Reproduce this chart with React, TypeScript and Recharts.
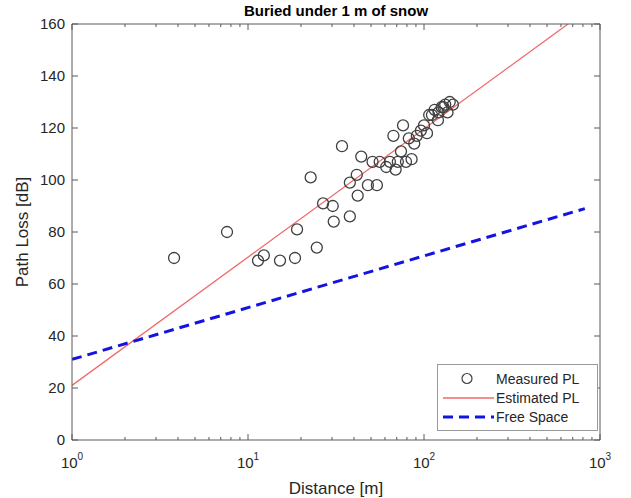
import { ComposedChart, Scatter, Line, XAxis, YAxis, Legend } from 'recharts'

const FONT = '"Liberation Sans", Arial, sans-serif'
const AXIS = '#5a5a5a'
const TEXT = '#262626'
const RED = '#f06a6a'
const BLUE = '#1414e0'

// measured points (distance in m, path loss in dB)
const measuredDistance = [
    3.8, 7.6, 11.4, 12.3, 15.2, 18.5, 19, 22.7, 24.6, 26.7, 30.3, 30.7, 34.2, 37.9, 37.9, 41.5,
    42, 44, 48, 51, 54, 56, 61, 64, 67, 69, 71, 74, 76, 79, 82, 85, 88, 91, 96, 100, 104, 107,
    111, 115, 120, 121, 126, 129, 132, 136, 140, 146,
]
const measuredPL = [
    70, 80, 69, 71, 69, 70, 81, 101, 74, 91, 90, 84, 113, 86, 99, 102, 94, 109, 98, 107, 98, 107,
    105, 107, 117, 104, 107, 111, 121, 107, 116, 108, 114, 117, 119, 121, 118, 125, 125, 127, 123,
    126, 128, 128, 129, 126, 130, 129,
]

// fitted line and free space reference, end points
const estimatedDistance = [1, 658]
const estimatedPL = [21, 160]
const freeSpaceDistance = [1, 820]
const freeSpacePL = [31, 89]

const xTicks = [
    1, 2, 3, 4, 5, 6, 7, 8, 9, 10, 20, 30, 40, 50, 60, 70, 80, 90, 100, 200, 300, 400, 500, 600,
    700, 800, 900, 1000,
]
const decades = [1, 10, 100, 1000]
const yTicks = [0, 20, 40, 60, 80, 100, 120, 140, 160]

const measured = measuredDistance.map((d, i) => ({ d, pl: measuredPL[i] }))
const estimated = estimatedDistance.map((d, i) => ({ d, pl: estimatedPL[i] }))
const freeSpace = freeSpaceDistance.map((d, i) => ({ d, pl: freeSpacePL[i] }))

const BottomTick = ({ x, y, payload }: any) => {
    const major = decades.includes(payload.value)
    return (
        <g>
            <line x1={x} x2={x} y1={y} y2={y - (major ? 6 : 3)} stroke={AXIS} />
            {major && (
                <text x={x} y={y + 28} textAnchor="middle" fontSize={15} fill={TEXT} fontFamily={FONT}>
                    10
                    <tspan dy={-8} fontSize={10}>
                        {Math.round(Math.log10(payload.value))}
                    </tspan>
                </text>
            )}
        </g>
    )
}

const TopTick = ({ x, y, payload }: any) => {
    const major = decades.includes(payload.value)
    return <line x1={x} x2={x} y1={y} y2={y + (major ? 6 : 3)} stroke={AXIS} />
}

const LeftTick = ({ x, y, payload }: any) => (
    <g>
        <line x1={x} x2={x + 6} y1={y} y2={y} stroke={AXIS} />
        <text x={x - 7} y={y} dy="0.35em" textAnchor="end" fontSize={15} fill={TEXT} fontFamily={FONT}>
            {payload.value}
        </text>
    </g>
)

const RightTick = ({ x, y }: any) => <line x1={x} x2={x - 6} y1={y} y2={y} stroke={AXIS} />

const OpenCircle = ({ cx, cy }: any) => (
    <circle cx={cx} cy={cy} r={5.5} fill="none" stroke="#404040" strokeWidth={1.3} />
)

const LegendBox = () => {
    const rows = [
        { label: 'Measured PL', kind: 'circle' },
        { label: 'Estimated PL', kind: 'red' },
        { label: 'Free Space', kind: 'blue' },
    ]
    return (
        <div
            style={{
                border: '1px solid #9a9a9a',
                background: '#fff',
                padding: '4px 0',
                fontFamily: FONT,
                fontSize: 14,
                color: TEXT,
            }}
        >
            {rows.map((r) => (
                <div key={r.label} style={{ display: 'flex', alignItems: 'center', height: 19 }}>
                    <svg width={58} height={19} style={{ flex: 'none' }}>
                        {r.kind === 'circle' && (
                            <circle cx={29} cy={9.5} r={5} fill="none" stroke="#404040" strokeWidth={1.2} />
                        )}
                        {r.kind === 'red' && <line x1={5} x2={56} y1={10} y2={10} stroke={RED} strokeWidth={1.5} />}
                        {r.kind === 'blue' && (
                            <line x1={5} x2={56} y1={10} y2={10} stroke={BLUE} strokeWidth={3} strokeDasharray="10 6" />
                        )}
                    </svg>
                    <span>{r.label}</span>
                </div>
            ))}
        </div>
    )
}

const App = () => {
    return (
        <div style={{ position: 'absolute', left: 0, top: 0, width: 631, height: 498, background: '#fff' }}>
            <div
                style={{
                    position: 'absolute',
                    left: 72,
                    width: 528,
                    top: 2,
                    textAlign: 'center',
                    fontFamily: FONT,
                    fontWeight: 'bold',
                    fontSize: 15,
                    color: '#000',
                }}
            >
                Buried under 1 m of snow
            </div>
            <ComposedChart width={631} height={498} margin={{ top: 23, right: 30, bottom: 0, left: 0 }}>
                <XAxis
                    dataKey="d"
                    type="number"
                    scale="log"
                    domain={[1, 1000]}
                    allowDataOverflow
                    ticks={xTicks}
                    interval={0}
                    tickSize={0}
                    tickMargin={0}
                    tickLine={false}
                    tick={<BottomTick />}
                    stroke={AXIS}
                    height={58}
                    label={{
                        value: 'Distance [m]',
                        position: 'insideBottom',
                        offset: 4,
                        style: { fontSize: 17, fill: TEXT, fontFamily: FONT },
                    }}
                />
                <XAxis
                    xAxisId="top"
                    dataKey="d"
                    type="number"
                    scale="log"
                    orientation="top"
                    domain={[1, 1000]}
                    allowDataOverflow
                    ticks={xTicks}
                    interval={0}
                    tickSize={0}
                    tickMargin={0}
                    tickLine={false}
                    tick={<TopTick />}
                    stroke={AXIS}
                    height={1}
                />
                <YAxis
                    dataKey="pl"
                    type="number"
                    domain={[0, 160]}
                    allowDataOverflow
                    ticks={yTicks}
                    interval={0}
                    tickSize={0}
                    tickMargin={0}
                    tickLine={false}
                    tick={<LeftTick />}
                    stroke={AXIS}
                    width={72}
                    label={{
                        value: 'Path Loss [dB]',
                        angle: -90,
                        position: 'insideLeft',
                        offset: 22,
                        style: { textAnchor: 'middle', fontSize: 17, fill: TEXT, fontFamily: FONT },
                    }}
                />
                <YAxis
                    yAxisId="right"
                    orientation="right"
                    type="number"
                    domain={[0, 160]}
                    allowDataOverflow
                    ticks={yTicks}
                    interval={0}
                    tickSize={0}
                    tickMargin={0}
                    tickLine={false}
                    tick={<RightTick />}
                    stroke={AXIS}
                    width={1}
                />
                <Line
                    data={estimated}
                    dataKey="pl"
                    type="linear"
                    stroke={RED}
                    strokeWidth={1.3}
                    dot={false}
                    isAnimationActive={false}
                />
                <Line
                    data={freeSpace}
                    dataKey="pl"
                    type="linear"
                    stroke={BLUE}
                    strokeWidth={3}
                    strokeDasharray="10 6"
                    dot={false}
                    isAnimationActive={false}
                />
                <Scatter data={measured} dataKey="pl" shape={<OpenCircle />} isAnimationActive={false} />
                <Legend
                    layout="vertical"
                    align="center"
                    verticalAlign="middle"
                    content={<LegendBox />}
                    wrapperStyle={{ position: 'absolute', left: 437, top: 364, width: 161, height: 64 }}
                />
            </ComposedChart>
        </div>
    )
}

export default App
